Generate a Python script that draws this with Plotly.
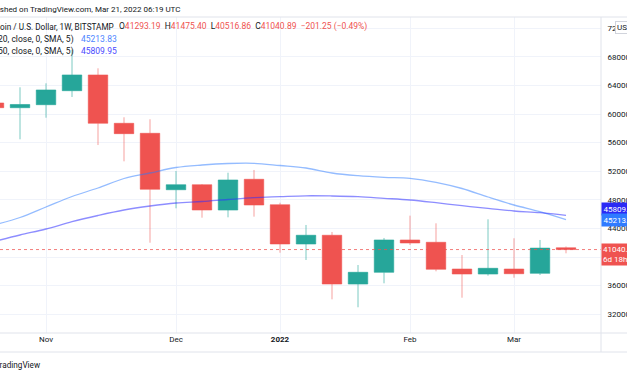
import pandas as pd
import plotly.graph_objects as go

# ---------------- data ----------------
weeks = pd.date_range("2021-10-18", periods=23, freq="7D")
opens = [61540, 60880, 61300, 63260, 65460, 58700, 57300, 49410, 50110, 46570, 50870, 47310,
         41820, 43040, 36220, 37860, 42380, 42060, 38320, 37620, 38320, 37720, 41293.19]
highs = [67000, 63735, 64290, 69000, 66390, 59540, 59260, 52030, 50210, 51790, 52170, 47590,
         44480, 43500, 38880, 42660, 45780, 44710, 40280, 45270, 42620, 42380, 41475.40]
lows = [59500, 56460, 59480, 62380, 55660, 53380, 42000, 46810, 45500, 45550, 45640, 40600,
        39580, 34080, 32970, 36320, 41680, 38000, 34310, 37390, 37100, 37480, 40516.86]
closes = [60880, 61330, 63360, 65460, 58700, 57250, 49470, 50110, 46570, 50770, 47270, 41820,
          43040, 36220, 37860, 42380, 41960, 38280, 37620, 38420, 37660, 41242.14, 41040.89]
sma20 = [44476, 45524, 46993, 48462, 49650, 50979, 51748, 52517, 52867, 53077, 53105, 52797,
         52448, 51748, 51371, 51147, 51007, 50448, 49580, 48392, 47273, 46336, 45213.83]
sma50 = [42168, 43077, 43916, 44937, 45804, 46573, 47133, 47552, 47762, 48042, 48294, 48434,
         48559, 48531, 48434, 48210, 47972, 47594, 47175, 46811, 46434, 46196, 45809.95]
month_ticks = ["2021-11-01", "2021-12-06", "2022-01-03", "2022-02-07", "2022-03-07"]
month_labels = ["Nov", "Dec", "<b>2022</b>", "Feb", "Mar"]
price_ticks = list(range(32000, 72001, 4000))
last_close = closes[-1]
chg = last_close - closes[-2]
chg_pct = chg / closes[-2] * 100

# ---------------- styling ----------------
W, H = 627, 376
PL, PR, PT, PB = 0, 601, 17, 333
UP, DN = "#26a69a", "#ef5350"
TXT = "#131722"
GRID = "#f0f3fa"
BORDER = "#e0e3eb"
FONT = "Roboto"
SP = "&nbsp;&nbsp;"


def px_x(p):
    return (p - PL) / (PR - PL)


def px_y(p):
    return (PB - p) / (PB - PT)


fig = go.Figure()
fig.add_trace(go.Candlestick(
    x=weeks, open=opens, high=highs, low=lows, close=closes,
    increasing=dict(line=dict(color="rgba(38,166,154,0.6)", width=1), fillcolor=UP),
    decreasing=dict(line=dict(color="rgba(239,83,80,0.55)", width=1), fillcolor=DN),
    showlegend=False, hoverinfo="skip"))
fig.add_trace(go.Scatter(x=weeks, y=sma20, mode="lines", line=dict(color="rgba(41,121,255,0.5)", width=1.3, shape="spline"),
                         showlegend=False, hoverinfo="skip"))
fig.add_trace(go.Scatter(x=weeks, y=sma50, mode="lines", line=dict(color="rgba(48,48,255,0.55)", width=1.3, shape="spline"),
                         showlegend=False, hoverinfo="skip"))

# x range: bar spacing 26 px per week, first bar centred at -6 px
step = pd.Timedelta(days=7)
x0 = weeks[0] + step * (6 / 26)
x1 = weeks[0] + step * ((PR + 6) / 26)

ann = []
# top publication line
ann.append(dict(text="Published on TradingView.com, Mar 21, 2022 06:19 UTC", x=px_x(182), y=px_y(9),
                xanchor="right", yanchor="middle", font=dict(size=8, color=TXT)))
# legend lines
ann.append(dict(text="Bitcoin / U.S. Dollar, 1W, BITSTAMP", x=px_x(116), y=px_y(27),
                xanchor="right", yanchor="middle", font=dict(size=8.2, color=TXT)))
red = lambda s: f"<span style='color:{DN}'>{s}</span>"
ohlc = (f"O{red(f'{opens[-1]:.2f}')}{SP}H{red(f'{highs[-1]:.2f}')}{SP}L{red(f'{lows[-1]:.2f}')}{SP}"
        f"C{red(f'{closes[-1]:.2f}')}{SP}{red(f'−{abs(chg):.2f} (−{abs(chg_pct):.2f}%)')}")
ann.append(dict(text=ohlc, x=px_x(117), y=px_y(27), xanchor="left", yanchor="middle",
                font=dict(size=8.5, color=TXT)))
ann.append(dict(text="MA (20, close, 0, SMA, 5)", x=px_x(76), y=px_y(39), xanchor="right", yanchor="middle",
                font=dict(size=8.5, color=TXT)))
ann.append(dict(text=f"{sma20[-1]:.2f}", x=px_x(79), y=px_y(39), xanchor="left", yanchor="middle",
                font=dict(size=8.5, color="#4f86ff")))
ann.append(dict(text="MA (50, close, 0, SMA, 5)", x=px_x(76), y=px_y(51), xanchor="right", yanchor="middle",
                font=dict(size=8.5, color=TXT)))
ann.append(dict(text=f"{sma50[-1]:.2f}", x=px_x(79), y=px_y(51), xanchor="left", yanchor="middle",
                font=dict(size=8.5, color="#4a4aff")))
# bottom watermark
ann.append(dict(text="TradingView", x=px_x(42), y=px_y(365), xanchor="right", yanchor="middle",
                font=dict(size=8.2, color=TXT)))
# price-axis labels
ann.append(dict(text=f"{sma50[-1]:.2f}", xref="paper", x=1.0, yref="y", y=sma50[-1], yshift=6.7,
                xanchor="left", yanchor="middle", bgcolor="#2a2af5", font=dict(size=8, color="white"),
                borderpad=1.5, showarrow=False))
ann.append(dict(text=f"{sma20[-1]:.2f}", xref="paper", x=1.0, yref="y", y=sma20[-1], yshift=0,
                xanchor="left", yanchor="middle", bgcolor="#2f7bff", font=dict(size=8, color="white"),
                borderpad=1.5, showarrow=False))
ann.append(dict(text=f"{last_close:.2f}<br>6d 18h", xref="paper", x=1.0, yref="y", y=last_close, yshift=-5,
                xanchor="left", yanchor="middle", bgcolor=DN, font=dict(size=8, color="white"),
                borderpad=1, align="left", showarrow=False))
ann.append(dict(text="USD", x=px_x(615), y=px_y(28), xanchor="left", yanchor="middle",
                bgcolor="white", bordercolor="#d1d4dc", borderwidth=1, borderpad=1,
                font=dict(size=8, color=TXT)))

for a in ann:
    a.setdefault("xref", "paper")
    a.setdefault("yref", "paper")
    a.setdefault("showarrow", False)
    fig.add_annotation(**a)

shapes = [
    dict(type="line", xref="paper", yref="y", x0=0, x1=1, y0=last_close, y1=last_close,
         line=dict(color="rgba(239,83,80,0.75)", width=1, dash="dot")),
    dict(type="line", xref="paper", yref="paper", x0=0, x1=px_x(W), y0=1, y1=1,
         line=dict(color=BORDER, width=1)),
    dict(type="line", xref="paper", yref="paper", x0=0, x1=px_x(W), y0=0, y1=0,
         line=dict(color=BORDER, width=1)),
    dict(type="line", xref="paper", yref="paper", x0=0, x1=px_x(W), y0=px_y(352), y1=px_y(352),
         line=dict(color=BORDER, width=1)),
    dict(type="line", xref="paper", yref="paper", x0=1, x1=1, y0=px_y(352), y1=1,
         line=dict(color=BORDER, width=1)),
]
for s in shapes:
    fig.add_shape(**s)

fig.update_layout(
    width=W, height=H,
    margin=dict(l=PL, r=W - PR, t=PT, b=H - PB, pad=0, autoexpand=False),
    paper_bgcolor="white", plot_bgcolor="white",
    font=dict(family=FONT, color=TXT),
    boxgap=0.25, boxgroupgap=0,
    hovermode=False,
    xaxis=dict(type="date", range=[x0, x1], tickvals=month_ticks, ticktext=month_labels,
               showgrid=True, gridcolor=GRID, gridwidth=1, zeroline=False, showline=False,
               ticks="", tickfont=dict(size=8, color=TXT), rangeslider=dict(visible=False),
               fixedrange=True, automargin=False),
    yaxis=dict(side="right", range=[29371, 73566], tickvals=price_ticks,
               ticktext=[str(v) for v in price_ticks], showgrid=True, gridcolor=GRID,
               zeroline=False, showline=False, ticks="outside", ticklen=4, tickcolor="rgba(0,0,0,0)",
               automargin=False, tickfont=dict(size=8, color=TXT), fixedrange=True),
)

fig.write_html("out.html", config={"displayModeBar": False},
               post_script="document.body.style.margin='0';document.body.style.overflow='hidden';")
